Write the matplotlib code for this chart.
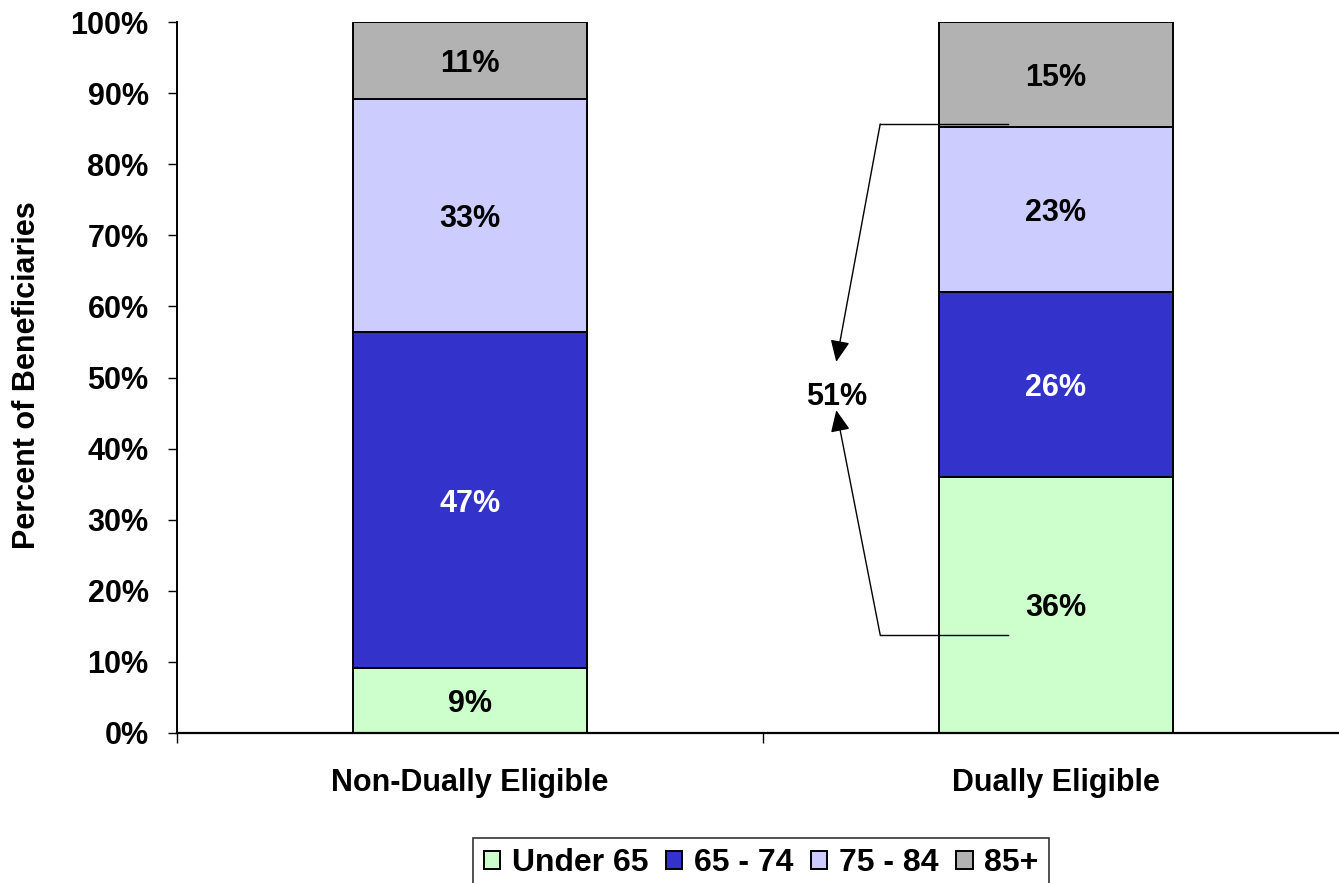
import numpy as np
import matplotlib.pyplot as plt

plt.rcParams.update({
    "font.family": "Liberation Sans",
    "font.weight": "bold",
    "font.size": 22,
})

categories = ["Non-Dually Eligible", "Dually Eligible"]
age_groups = ["Under 65", "65 - 74", "75 - 84", "85+"]
values = {
    "Under 65": [9.1, 36.0],
    "65 - 74": [47.3, 26.0],
    "75 - 84": [32.8, 23.2],
    "85+": [10.8, 14.8],
}
labels = {
    "Under 65": ["9%", "36%"],
    "65 - 74": ["47%", "26%"],
    "75 - 84": ["33%", "23%"],
    "85+": ["11%", "15%"],
}
COLORS = {"Under 65": "#CCFFCC", "65 - 74": "#3333CC", "75 - 84": "#CCCCFF", "85+": "#B2B2B2"}
TEXT_COLORS = {"Under 65": "black", "65 - 74": "white", "75 - 84": "black", "85+": "black"}

fig = plt.figure(figsize=(13.39, 8.83), dpi=100)
ax = fig.add_axes([177 / 1339, 1 - 733 / 883, 1172 / 1339, 711 / 883])

x = np.arange(len(categories))
bottom = np.zeros(len(categories))
handles = []
for g in age_groups:
    vals = np.array(values[g])
    b = ax.bar(x, vals, 0.4, bottom=bottom, color=COLORS[g], edgecolor="black",
               linewidth=1.4, label=g)
    handles.append(b)
    for i, v in enumerate(vals):
        ax.annotate(labels[g][i], (x[i], bottom[i] + v / 2), xytext=(0, -2.5),
                    textcoords="offset points", ha="center", va="center",
                    fontsize=22, fontweight="bold", color=TEXT_COLORS[g])
    bottom += vals

# bracket showing the combined share of the two bottom segments
ax.plot([0.918, 0.70], [85.65, 85.65], color="black", lw=1)
ax.plot([0.918, 0.70], [13.8, 13.8], color="black", lw=1)
arrow = dict(arrowstyle="-|>,head_length=0.6,head_width=0.27", color="black", lw=1,
             shrinkA=0, shrinkB=0)
ax.annotate("", xy=(0.625, 52.2), xytext=(0.70, 85.65), arrowprops=arrow)
ax.annotate("", xy=(0.625, 45.4), xytext=(0.70, 13.8), arrowprops=arrow)
ax.annotate("51%", (0.625, 47.8), xytext=(0, -3), textcoords="offset points",
            ha="center", va="center", fontsize=22, fontweight="bold")

ax.set_xlim(-0.5, 1.5)
ax.set_ylim(0, 100)
ax.set_yticks(np.arange(0, 101, 10))
ax.set_yticklabels([f"{t}%" for t in range(0, 101, 10)], fontsize=22, fontweight="bold")
ax.set_xticks([-0.5, 0.5, 1.5])
ax.set_xticklabels([])
ax.set_xticks(x, minor=True)
ax.set_xticklabels(categories, minor=True, fontsize=22, fontweight="bold")
ax.tick_params(axis="x", which="minor", length=0, pad=25.5)
ax.tick_params(axis="x", which="major", length=7, width=1, direction="out")
ax.tick_params(axis="y", length=6.5, width=1, direction="out", pad=14)
ax.spines["top"].set_visible(False)
ax.spines["right"].set_visible(False)
ax.spines["left"].set_linewidth(1.4)
ax.spines["bottom"].set_linewidth(1.6)
fig.text(27 / 1339, 1 - 375 / 883, "Percent of Beneficiaries", rotation=90,
         ha="center", va="center", fontsize=22, fontweight="bold")

leg = fig.legend(handles=handles, labels=age_groups, loc="upper center",
                 bbox_to_anchor=(761 / 1339, 1 - 838 / 883), ncol=4,
                 frameon=True, fancybox=False, edgecolor="black", borderpad=0.32,
                 borderaxespad=0, handlelength=0.52, handleheight=0.52,
                 handletextpad=0.36, columnspacing=0.55,
                 prop={"weight": "bold", "size": 23})
leg.get_frame().set_linewidth(1.2)

fig.savefig("out.png", dpi=100)
